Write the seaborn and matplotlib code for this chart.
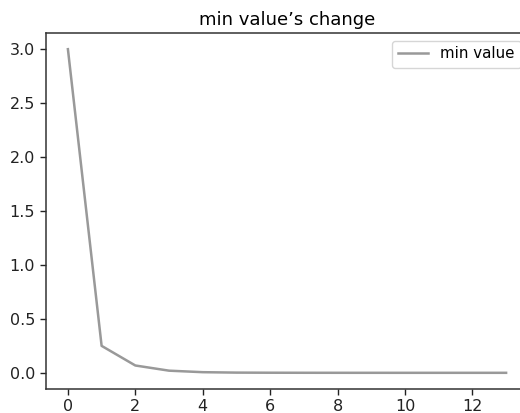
import matplotlib
matplotlib.use("Agg")
import matplotlib.pyplot as plt
import seaborn as sns
import pandas as pd

# iteration index and the minimum value reached at each step
steps = list(range(14))
min_values = [3.0, 0.25, 0.068, 0.02, 0.006, 0.002, 0.001,
              0.0005, 0.0003, 0.0002, 0.0001, 0.0001, 0.0001, 0.0001]

df = pd.DataFrame({"step": steps, "min value": min_values})

fig = plt.figure(figsize=(5.2, 4.13), dpi=100)
ax = fig.add_axes([46 / 520, 24 / 413, 482 / 520, 356 / 413])

sns.lineplot(data=df, x="step", y="min value", color="#999999",
             linewidth=1.8, label="min value", ax=ax)

ax.set_title("min value\u2019s change", fontsize=13)
ax.set_xlabel("")
ax.set_ylabel("")
ax.set_xticks([0, 2, 4, 6, 8, 10, 12])
ax.set_yticks([0.0, 0.5, 1.0, 1.5, 2.0, 2.5, 3.0])
ax.tick_params(labelsize=11.5, width=1.0, length=4.5, colors="#222222")
ax.tick_params(axis="x", pad=2.5)
for s in ax.spines.values():
    s.set_linewidth(1.1)
    s.set_color("#333333")
ax.legend(loc="upper right", fontsize=10.8)

fig.savefig("out.png", dpi=100)
